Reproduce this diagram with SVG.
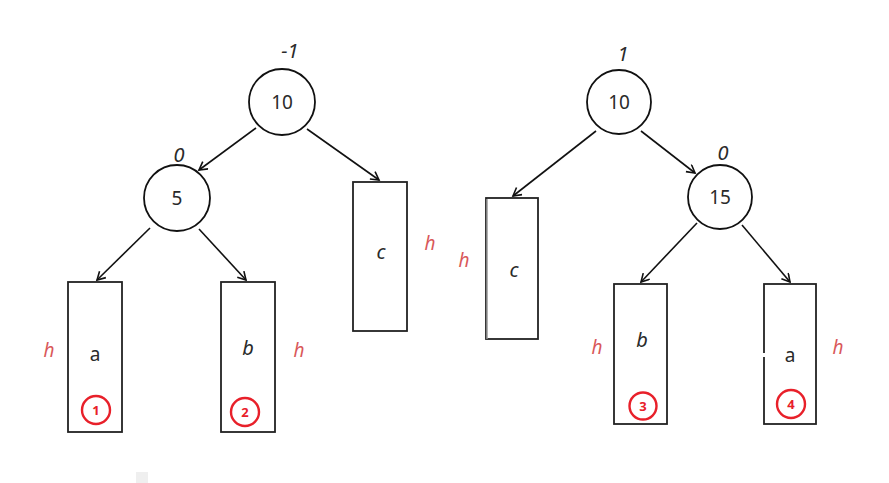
<svg xmlns="http://www.w3.org/2000/svg" width="889" height="483" viewBox="0 0 889 483">
<defs>
<style>
.node{fill:#fff;stroke:#111;stroke-width:1.8}
.box{fill:#fff;stroke:#222;stroke-width:1.8}
.t{font-family:"Noto Sans","Open Sans",sans-serif;font-size:19px;fill:#2a2a2a;text-anchor:middle}
.it{font-style:italic;font-size:20px}
.h{font-family:"Noto Sans","Open Sans",sans-serif;font-size:19px;font-style:italic;fill:#d9585a;text-anchor:middle}
.bad{fill:none;stroke:#e8202a;stroke-width:2.4}
.bt{font-family:"Noto Sans","Open Sans",sans-serif;font-size:13px;font-weight:bold;fill:#e8202a;text-anchor:middle}
.edge{stroke:#111;stroke-width:1.6;fill:none;marker-end:url(#arr)}
</style>
<marker id="arr" markerWidth="12" markerHeight="12" refX="9" refY="5" orient="auto" markerUnits="userSpaceOnUse">
<path d="M1,0.5 L9,5 L1,9.5" fill="none" stroke="#111" stroke-width="1.6"/>
</marker>
</defs>
<rect width="889" height="483" fill="#fff"/>
<rect x="136" y="472" width="12" height="11" fill="#efefef"/>
<g id="connectors">
<line class="edge" x1="256" y1="128" x2="199" y2="170"/>
<line class="edge" x1="307" y1="129" x2="379" y2="180"/>
<line class="edge" x1="150" y1="228" x2="97" y2="280"/>
<line class="edge" x1="199" y1="229" x2="246" y2="280"/>
<line class="edge" x1="596" y1="131" x2="513" y2="196"/>
<line class="edge" x1="641" y1="131" x2="695" y2="173"/>
<line class="edge" x1="697" y1="223" x2="641" y2="282"/>
<line class="edge" x1="742" y1="225" x2="790" y2="282"/>
</g>
<g id="L-root">
<circle class="node" cx="282" cy="102" r="33"/>
<text class="t" x="282" y="109">10</text>
<text class="t it" x="290" y="58">-1</text>
</g>
<g id="L-5">
<circle class="node" cx="177" cy="198" r="33"/>
<text class="t" x="177" y="205">5</text>
<text class="t it" x="179" y="162">0</text>
</g>
<g id="L-c">
<rect class="box" x="353" y="182" width="54" height="149"/>
<text class="t it" x="381" y="259">c</text>
<text class="h" x="430" y="250">h</text>
</g>
<g id="L-a">
<rect class="box" x="68" y="282" width="54" height="150"/>
<text class="t" x="95" y="361">a</text>
<text class="h" x="49" y="357">h</text>
<circle class="bad" cx="96" cy="410" r="14"/>
<text class="bt" x="96" y="415">1</text>
</g>
<g id="L-b">
<rect class="box" x="221" y="282" width="54" height="150"/>
<text class="t it" x="248" y="355">b</text>
<text class="h" x="299" y="357">h</text>
<circle class="bad" cx="245" cy="412" r="14"/>
<text class="bt" x="245" y="417">2</text>
</g>
<g id="R-root">
<circle class="node" cx="619" cy="102" r="32"/>
<text class="t" x="619" y="109">10</text>
<text class="t it" x="623" y="61">1</text>
</g>
<g id="R-15">
<circle class="node" cx="720" cy="197" r="32"/>
<text class="t" x="720" y="204">15</text>
<text class="t it" x="723" y="160">0</text>
</g>
<g id="R-c">
<rect class="box" x="486" y="198" width="52" height="141"/>
<line x1="487" y1="199" x2="487" y2="339" stroke="#999" stroke-width="1.5"/>
<text class="t it" x="514" y="277">c</text>
<text class="h" x="464" y="267">h</text>
</g>
<g id="R-b">
<rect class="box" x="614" y="284" width="53" height="140"/>
<text class="t it" x="642" y="347">b</text>
<text class="h" x="597" y="354">h</text>
<circle class="bad" cx="643" cy="406" r="13.5"/>
<text class="bt" x="643" y="411">3</text>
</g>
<g id="R-a">
<rect class="box" x="764" y="284" width="52" height="140"/>
<rect x="762" y="353" width="4" height="4" fill="#fff"/>
<text class="t" x="790" y="362">a</text>
<text class="h" x="838" y="354">h</text>
<circle class="bad" cx="791" cy="404" r="14"/>
<text class="bt" x="791" y="409">4</text>
</g>
</svg>
